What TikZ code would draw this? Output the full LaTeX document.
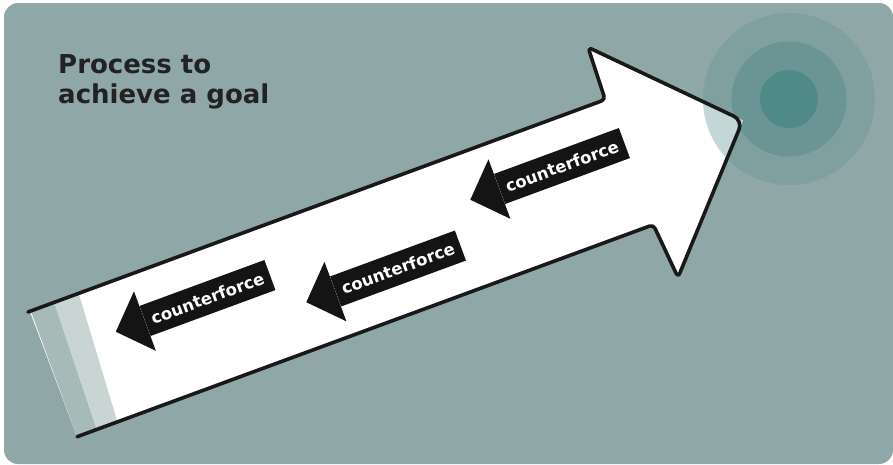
\documentclass[tikz,border=0pt]{standalone}
\usepackage{fontspec}
\setmainfont{DejaVu Sans}
\usetikzlibrary{calc}
\definecolor{bg}{HTML}{90A7A7}
\definecolor{ringA}{HTML}{7FA09F}
\definecolor{ringB}{HTML}{6A9594}
\definecolor{ringC}{HTML}{4F8A88}
\definecolor{overlap}{HTML}{C3D8D6}
\definecolor{bandA}{HTML}{A6BAB8}
\definecolor{bandB}{HTML}{C8D5D2}
\definecolor{titlecol}{HTML}{222222}
\begin{document}
\begin{tikzpicture}[x=1pt,y=-1pt,
  ring/.style={circle, inner sep=0pt, draw=none},
  outline/.style={draw=black!90, line width=3.6pt, line cap=round, line join=round},
  cbox/.style={fill=black!92, text=white, minimum width=133pt, minimum height=32pt, inner sep=0pt, rotate=20.2, font=\fontsize{16.5}{20}\selectfont\bfseries},
  chead/.style={fill=black!92},
  titletext/.style={anchor=base west, inner sep=0pt, text=titlecol, font=\fontsize{26}{31}\selectfont\bfseries}]
\useasboundingbox (0,0) rectangle (893,464);
\fill[bg, rounded corners=14pt] (4,3) rectangle (893,464);
% target
\node[ring, fill=ringA, minimum size=172pt] (outer) at (789,99) {};
\node[ring, fill=ringB, minimum size=115pt] (middle) at (789,99) {};
\node[ring, fill=ringC, minimum size=58pt] (inner) at (789,99) {};
% big arrow
\begin{scope}[shift={(28,312)}, rotate=20.2]
  \fill[white] (2,0) -- (615,0) -- (617,-55) -- (737,67) -- (622,192) -- (617,134) -- (3,134) -- cycle;
  \fill[bandA] (3,0) -- (28,0) -- (24,134) -- (3,134) -- cycle;
  \fill[bandB] (28,0) -- (54,0) -- (46,134) -- (24,134) -- cycle;
  \begin{scope}
    \clip (2,0) -- (615,0) -- (617,-55) -- (737,67) -- (622,192) -- (617,134) -- (3,134) -- cycle;
    \fill[overlap] (outer.center) circle[radius=86pt];
  \end{scope}
  \draw[outline, rounded corners=4pt] (0,0) -- (615,0) -- (617,-55) -- (677,6);
  \draw[outline, rounded corners=10pt] (677,6) -- (737,67) -- (679.5,129.5);
  \draw[outline, rounded corners=4pt] (679.5,129.5) -- (622,192) -- (617,134) -- (3,134);
\end{scope}
% counterforce labels
\node[cbox] (c1) at (207.5,298) {counterforce};
\node[cbox] (c2) at (398,268.5) {counterforce};
\node[cbox] (c3) at (562,166) {counterforce};
\foreach \c in {c1,c2,c3}{
  \fill[chead] (\c.north west) -- ($(\c.north west)!-15.5pt!(\c.south west)$)
    -- ($(\c.west)!-31pt!(\c.east)$)
    -- ($(\c.south west)!-15.5pt!(\c.north west)$) -- (\c.south west) -- cycle;
}
% title
\node[titletext] (title1) at (58,73) {Process to};
\node[titletext] (title2) at (58,103.5) {achieve a goal};
\end{tikzpicture}
\end{document}
